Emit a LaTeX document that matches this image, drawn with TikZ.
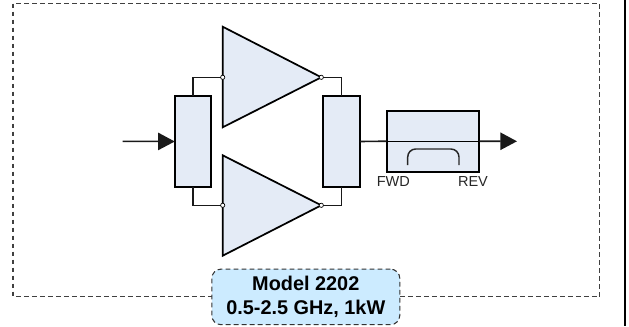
\documentclass[tikz,border=0pt]{standalone}
\usepackage{fontspec}
\setmainfont{Liberation Sans}
\usetikzlibrary{arrows.meta}
\definecolor{panelblue}{HTML}{E4EBF6}
\definecolor{labelblue}{HTML}{CCEBFF}
\tikzset{
  x=0.75pt,y=-0.75pt,
  block/.style={draw=black,fill=panelblue,line width=1.3pt,line join=miter},
  rectblock/.style={block,inner sep=0pt,outer sep=0pt},
  wire/.style={draw=black!90,line width=1.2pt},
  sig/.style={wire,-{Triangle[length=12.5pt,width=13pt]}},
  port/.style={circle,draw=black,fill=white,line width=0.5pt,inner sep=0pt,minimum size=3.2pt},
  dashbox/.style={draw=black!75,line width=0.8pt,dash pattern=on 3.6pt off 2.4pt},
  tag/.style={font=\fontsize{10.9pt}{11pt}\selectfont,text=black!85,inner sep=0pt,anchor=base},
}
\begin{document}
\begin{tikzpicture}
\useasboundingbox (0,0) rectangle (629,326);
\coordinate (edgetop) at (625,0);
\coordinate (edgebot) at (625,326);
\draw[black,line width=1.7pt] (edgetop) -- (edgebot);
\draw[dashbox] (13,3.5) rectangle (599.7,296.7);
% amplifiers
\path[block] (222.7,26.7) -- (321.3,77.3) -- (222.7,127.3) -- cycle;
\path[block] (222.7,155.3) -- (321.3,205.3) -- (222.7,255.7) -- cycle;
\coordinate (t1in) at (222.7,77.3);
\coordinate (t1out) at (321.3,77.3);
\coordinate (t2in) at (222.7,205.3);
\coordinate (t2out) at (321.3,205.3);
\node[rectblock,minimum width=27.4pt,minimum height=68.7pt] (split) at (193,141.5) {};
\node[rectblock,minimum width=27.4pt,minimum height=68.7pt] (comb) at (341.6,141.5) {};
\node[rectblock,minimum width=69.5pt,minimum height=45.7pt] (coup) at (433,141.2) {};
% wires
\draw[wire] (t1in) -| (split.north);
\draw[wire] (t2in) -| (split.south);
\draw[wire] (t1out) -| (comb.north);
\draw[wire] (t2out) -| (comb.south);
\coordinate (in) at (122.7,141.3);
\coordinate (out) at (517,141.3);
\draw[sig] (in) -- (split.west);
\draw[wire] (comb.east) -- (coup.west);
\draw[line width=0.8pt] (coup.west) -- (coup.east);
\draw[sig] (coup.east) -- (out);
\draw[line width=1.1pt,black!85,rounded corners=6pt] (407.7,165) -- (407.7,149) -- (459,149) -- (459,165);
\node[port] (p1) at (t1in) {};
\node[port] (p2) at (t1out) {};
\node[port] (p3) at (t2in) {};
\node[port] (p4) at (t2out) {};
\node[tag] (fwd) at (393.3,186) {FWD};
\node[tag] (rev) at (473,186.7) {REV};
\node[draw=black!80,fill=labelblue,line width=0.8pt,dash pattern=on 3.6pt off 2.4pt,rounded corners=7pt,
  minimum width=141pt,minimum height=41.7pt,inner sep=0pt,align=center,
  font=\fontsize{14.9pt}{18pt}\selectfont\bfseries] (lab) at (305.8,296.9) {Model 2202\\0.5-2.5 GHz, 1kW};
\end{tikzpicture}
\end{document}
